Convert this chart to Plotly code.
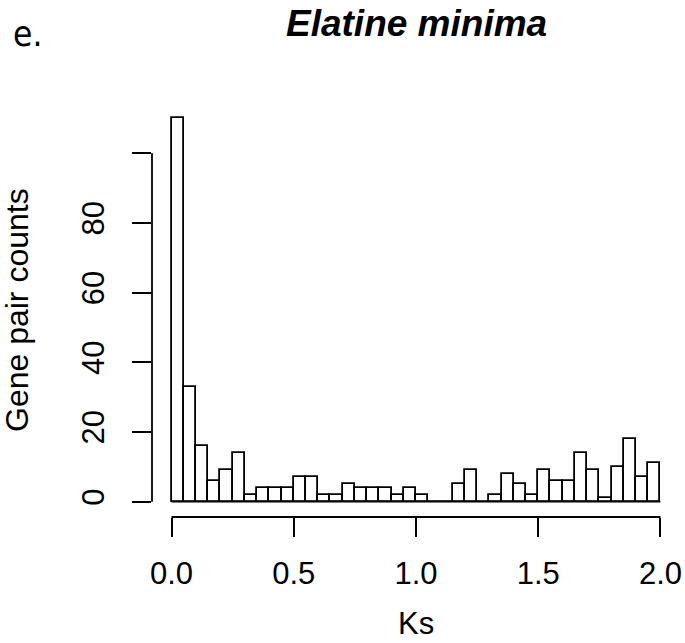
import numpy as np
import plotly.graph_objects as go

# Ks histogram: bin edges and gene pair counts per bin
bin_width = 0.05
bin_edges = np.round(np.arange(0, 2.0 + bin_width / 2, bin_width), 2)
counts = [110, 33, 16, 6, 9, 14, 2, 4, 4, 4,
          7, 7, 2, 2, 5, 4, 4, 4, 2, 4,
          2, 0, 0, 5, 9, 0, 2, 8, 5, 2,
          9, 6, 6, 14, 9, 1, 10, 18, 7, 11]

x_ticks = [0.0, 0.5, 1.0, 1.5, 2.0]
x_tick_text = ["0.0", "0.5", "1.0", "1.5", "2.0"]
y_ticks = [0, 20, 40, 60, 80, 100]
y_tick_text = ["0", "20", "40", "60", "80", ""]

title_text = "Elatine minima"
panel_label = "e."
x_label = "Ks"
y_label = "Gene pair counts"

FONT = "Liberation Sans, Arial, sans-serif"
bin_centers = (bin_edges[:-1] + bin_edges[1:]) / 2

fig = go.Figure()

# baseline under the bins (empty bins show as a flat line)
fig.add_trace(go.Scatter(
    x=[bin_edges[0], bin_edges[-1]], y=[0, 0], mode="lines",
    line=dict(color="black", width=1.8), hoverinfo="skip", showlegend=False,
))

fig.add_trace(go.Bar(
    x=bin_centers, y=counts, width=bin_width,
    marker=dict(color="white", line=dict(color="black", width=1.8)),
    showlegend=False,
))

# axis lines spanning only the first to last tick
fig.add_shape(type="line", xref="x", yref="paper",
              x0=x_ticks[0], x1=x_ticks[-1], y0=0, y1=0,
              line=dict(color="black", width=1.8))
fig.add_shape(type="line", xref="paper", yref="y",
              x0=0, x1=0, y0=y_ticks[0], y1=y_ticks[-1],
              line=dict(color="black", width=1.8))

fig.update_layout(
    width=685, height=643,
    margin=dict(l=152, r=3, t=103, b=126),
    paper_bgcolor="white", plot_bgcolor="white",
    bargap=0,
    font=dict(family=FONT, color="black", size=31),
    xaxis=dict(
        range=[-0.08, 2.08], showgrid=False, zeroline=False, showline=False,
        tickmode="array", tickvals=x_ticks, ticktext=x_tick_text,
        ticks="outside", ticklen=19, tickwidth=1.8, tickcolor="black",
        ticklabelstandoff=10,
        tickfont=dict(family=FONT, size=31),
    ),
    yaxis=dict(
        range=[-4.4, 114.4], showgrid=False, zeroline=False, showline=False,
        tickmode="array", tickvals=y_ticks, ticktext=y_tick_text,
        ticks="outside", ticklen=19, tickwidth=1.8, tickcolor="black",
        tickangle=-90, ticklabelstandoff=16,
        tickfont=dict(family=FONT, size=31),
    ),
    annotations=[
        dict(text="<b><i>" + title_text + "</i></b>", xref="paper", yref="paper",
             x=0.5, y=1, yshift=80, xanchor="center", yanchor="middle",
             showarrow=False, font=dict(family=FONT, size=37)),
        dict(text=panel_label, xref="paper", yref="paper",
             x=0, xshift=-141, y=1, yshift=69, xanchor="left", yanchor="middle",
             showarrow=False,
             font=dict(family="DejaVu Sans Condensed, Liberation Sans Narrow, sans-serif",
                       size=35)),
        dict(text=x_label, xref="paper", yref="paper",
             x=0.5, y=0, yshift=-106, xanchor="center", yanchor="middle",
             showarrow=False, font=dict(family=FONT, size=31)),
        dict(text=y_label, xref="paper", yref="paper",
             x=0, xshift=-135, y=0.5, xanchor="center", yanchor="middle",
             textangle=-90, showarrow=False, font=dict(family=FONT, size=32)),
    ],
)

fig.write_html("out.html")
